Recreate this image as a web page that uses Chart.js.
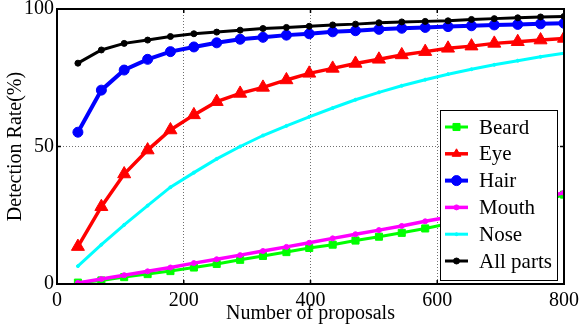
<!DOCTYPE html>
<html>
<head>
<meta charset="utf-8">
<script src="https://cdn.jsdelivr.net/npm/chart.js@4.4.0/dist/chart.umd.min.js"></script>
<style>
  html, body { margin: 0; padding: 0; background: #fff; }
  #wrap { width: 581px; height: 329px; }
</style>
</head>
<body>
<div id="wrap"><canvas id="chart"></canvas></div>
<script>
// values
const proposals = [33, 70, 106, 143, 179, 216, 252, 289, 325, 362, 398, 435, 471, 508, 544, 581, 617, 654, 690, 727, 763, 800];
const beard    = [0.5, 1.3, 2.5, 3.6, 4.7, 6.0, 7.3, 8.8, 10.2, 11.6, 13.1, 14.3, 15.8, 17.2, 18.6, 20.2, 21.9, 23.6, 25.5, 27.5, 29.8, 32.5];
const eye      = [13.6, 28.1, 40.0, 48.7, 56.0, 61.5, 66.3, 69.3, 71.5, 74.2, 76.6, 78.4, 80.2, 81.7, 83.3, 84.5, 85.7, 86.5, 87.5, 88.1, 88.7, 89.3];
const hair     = [55.2, 70.5, 77.8, 81.7, 84.5, 86.2, 87.7, 89.0, 89.7, 90.5, 91.0, 91.7, 92.1, 92.6, 93.0, 93.3, 93.6, 93.9, 94.2, 94.4, 94.6, 94.8];
const mouth    = [0.4, 1.8, 3.2, 4.6, 6.0, 7.6, 9.0, 10.5, 12.0, 13.5, 15.0, 16.6, 18.1, 19.6, 21.1, 22.8, 24.3, 25.9, 27.6, 29.4, 31.2, 33.2];
const nose     = [6.5, 14.3, 21.5, 28.5, 35.2, 40.5, 45.5, 50.0, 54.0, 57.5, 60.8, 64.0, 67.0, 69.7, 72.1, 74.3, 76.3, 78.1, 79.7, 81.2, 82.6, 83.9];
const allParts = [80.3, 85.1, 87.5, 88.7, 90.0, 91.0, 91.6, 92.3, 92.9, 93.3, 93.7, 94.2, 94.5, 95.0, 95.3, 95.5, 95.7, 96.2, 96.5, 96.8, 97.1, 97.3];

const xTicks = [0, 200, 400, 600, 800];
const yTicks = [0, 50, 100];

const FONT = '"Liberation Serif", "Times New Roman", serif';

function pts(arr) {
  return arr.map((v, i) => ({ x: proposals[i], y: v }));
}

function series(label, data, color, style, radius, width, order) {
  return {
    label, data: pts(data),
    borderColor: color, backgroundColor: color,
    pointBackgroundColor: color, pointBorderColor: color,
    pointStyle: style, pointRadius: radius, pointBorderWidth: 1,
    borderWidth: width, tension: 0, order
  };
}

const datasets = [
  series('Beard', beard, '#00ff00', 'rect', 5, 3, 6),
  series('Eye', eye, '#ff0000', 'triangle', 7.5, 3.5, 5),
  series('Hair', hair, '#0000ff', 'circle', 5, 4, 4),
  series('Mouth', mouth, '#ff00ff', 'circle', 2.5, 3.5, 3),
  series('Nose', nose, '#00ffff', 'circle', 1.5, 3, 2),
  series('All parts', allParts, '#000000', 'circle', 3, 3, 1)
];

// box around the axes with small inward ticks, like matlab
const framePlugin = {
  id: 'frame',
  afterDatasetsDraw(chart) {
    const { ctx, chartArea: a, scales } = chart;
    ctx.save();
    ctx.strokeStyle = '#000';
    ctx.lineWidth = 2;
    ctx.strokeRect(a.left, a.top, a.right - a.left, a.bottom - a.top);
    ctx.lineWidth = 1.5;
    ctx.beginPath();
    xTicks.slice(1, -1).forEach(t => {
      const px = scales.x.getPixelForValue(t);
      ctx.moveTo(px, a.bottom); ctx.lineTo(px, a.bottom - 4);
      ctx.moveTo(px, a.top); ctx.lineTo(px, a.top + 4);
    });
    yTicks.slice(1, -1).forEach(t => {
      const py = scales.y.getPixelForValue(t);
      ctx.moveTo(a.left, py); ctx.lineTo(a.left + 4, py);
      ctx.moveTo(a.right, py); ctx.lineTo(a.right - 4, py);
    });
    ctx.stroke();
    ctx.restore();
  }
};

// boxed legend in the lower right corner
const legendPlugin = {
  id: 'boxLegend',
  afterDraw(chart) {
    const ctx = chart.ctx;
    const box = { x: 440, y: 110, w: 117, h: 170 };
    ctx.save();
    ctx.fillStyle = '#fff';
    ctx.fillRect(box.x, box.y, box.w, box.h);
    ctx.strokeStyle = '#000';
    ctx.lineWidth = 1;
    ctx.strokeRect(box.x + 0.5, box.y + 0.5, box.w, box.h);
    ctx.font = '21px ' + FONT;
    ctx.textBaseline = 'middle';
    chart.data.datasets.forEach((ds, i) => {
      const y = 127 + i * 26.8;
      ctx.strokeStyle = ds.borderColor;
      ctx.fillStyle = ds.borderColor;
      ctx.lineWidth = ds.borderWidth;
      ctx.beginPath();
      ctx.moveTo(445, y); ctx.lineTo(468, y);
      ctx.stroke();
      ctx.lineWidth = 1;
      Chart.helpers.drawPoint(ctx, { pointStyle: ds.pointStyle, radius: Math.min(ds.pointRadius, 5), rotation: 0, borderWidth: 1 }, 456.5, y);
      ctx.fillStyle = '#000';
      ctx.fillText(ds.label, 479, y + 1);
    });
    ctx.restore();
  }
};

const gridColor = ends => c => (c.tick && ends.includes(c.tick.value)) ? 'rgba(0,0,0,0)' : '#707070';

new Chart(document.getElementById('chart'), {
  type: 'line',
  data: { datasets },
  options: {
    responsive: true,
    maintainAspectRatio: false,
    animation: false,
    events: [],
    layout: { padding: { top: 9, right: 17, left: 0, bottom: 0 } },
    plugins: { legend: { display: false }, tooltip: { enabled: false } },
    scales: {
      x: {
        type: 'linear', min: 0, max: 800,
        afterBuildTicks: s => { s.ticks = xTicks.map(v => ({ value: v })); },
        afterFit: s => { s.height = 45; s.paddingLeft = 0; s.paddingRight = 0; },
        ticks: { color: '#000', padding: 5, maxRotation: 0, font: { family: FONT, size: 20 } },
        grid: { color: gridColor([0, 800]), lineWidth: 1, drawTicks: false },
        border: { display: false, dash: [1, 2] },
        title: { display: true, text: 'Number of proposals', color: '#000', padding: { top: 0, bottom: 3 }, font: { family: FONT, size: 20 } }
      },
      y: {
        min: 0, max: 100,
        afterBuildTicks: s => { s.ticks = yTicks.map(v => ({ value: v })); },
        afterFit: s => { s.width = 57; s.paddingTop = 0; s.paddingBottom = 0; },
        ticks: { color: '#000', padding: 3, font: { family: FONT, size: 20 } },
        grid: { color: gridColor([0, 100]), lineWidth: 1, drawTicks: false },
        border: { display: false, dash: [1, 2] },
        title: { display: true, text: 'Detection Rate(%)', color: '#000', font: { family: FONT, size: 20 } }
      }
    }
  },
  plugins: [framePlugin, legendPlugin]
});
</script>
</body>
</html>
